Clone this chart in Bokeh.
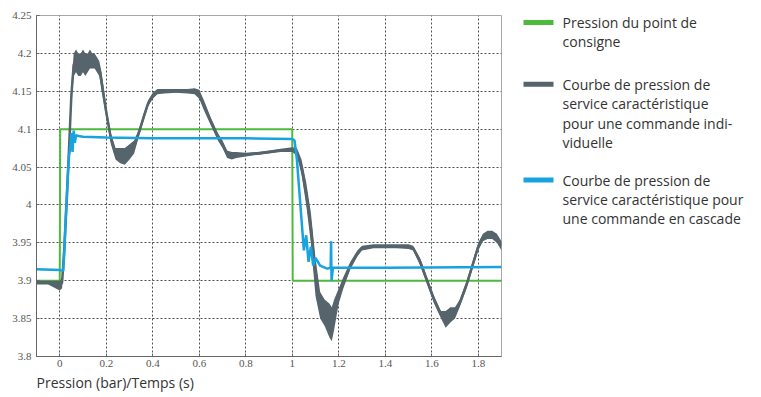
from bokeh.plotting import figure
from bokeh.models import Range1d, Title, FixedTicker, NumeralTickFormatter
from bokeh.layouts import row
from bokeh.embed import file_html
from bokeh.resources import INLINE
from bokeh.core.properties import value

# ---------------- data ----------------
x_ticks = [0, 0.2, 0.4, 0.6, 0.8, 1.0, 1.2, 1.4, 1.6, 1.8]
y_ticks = [3.8, 3.85, 3.9, 3.95, 4.0, 4.05, 4.1, 4.15, 4.2, 4.25]

setpoint_x = [-0.1, 0.0, 0.002, 1.0, 1.002, 1.9]
setpoint_y = [3.9, 3.9, 4.1, 4.1, 3.9, 3.9]

single_x = [-0.1, -0.05, 0.0, 0.01, 0.02, 0.03, 0.04, 0.05, 0.06, 0.07, 0.08, 0.09,
            0.10, 0.11, 0.12, 0.13, 0.14, 0.15, 0.16, 0.17, 0.18, 0.20, 0.22, 0.24,
            0.26, 0.28, 0.30, 0.32, 0.34, 0.36, 0.38, 0.40, 0.42, 0.45, 0.50, 0.55,
            0.58, 0.60, 0.62, 0.65, 0.68, 0.70, 0.72, 0.74, 0.76, 0.80, 0.85, 0.90,
            0.95, 1.00, 1.02, 1.04, 1.06, 1.08, 1.10, 1.12, 1.14, 1.16, 1.17, 1.18,
            1.20, 1.22, 1.25, 1.28, 1.30, 1.35, 1.40, 1.45, 1.50, 1.52, 1.55, 1.58,
            1.61, 1.64, 1.66, 1.68, 1.70, 1.72, 1.75, 1.78, 1.80, 1.82, 1.84, 1.86,
            1.88, 1.90]
single_lo = [3.895, 3.895, 3.887, 3.890, 3.930, 3.990, 4.060, 4.130, 4.170, 4.175, 4.170, 4.170,
             4.175, 4.170, 4.175, 4.180, 4.180, 4.180, 4.175, 4.170, 4.150, 4.115, 4.080, 4.060,
             4.055, 4.053, 4.060, 4.068, 4.090, 4.110, 4.130, 4.140, 4.146, 4.147, 4.148, 4.147,
             4.146, 4.140, 4.125, 4.105, 4.085, 4.075, 4.062, 4.060, 4.062, 4.064, 4.066, 4.068,
             4.070, 4.070, 4.065, 4.040, 4.000, 3.950, 3.880, 3.850, 3.840, 3.825, 3.820, 3.835,
             3.870, 3.890, 3.915, 3.932, 3.940, 3.943, 3.943, 3.943, 3.942, 3.940, 3.920, 3.895,
             3.870, 3.850, 3.838, 3.845, 3.850, 3.865, 3.890, 3.920, 3.940, 3.952, 3.955, 3.955,
             3.950, 3.940]
single_hi = [3.900, 3.900, 3.900, 3.905, 3.960, 4.020, 4.090, 4.160, 4.200, 4.205, 4.200, 4.200,
             4.205, 4.200, 4.200, 4.205, 4.200, 4.200, 4.195, 4.190, 4.175, 4.130, 4.095, 4.075,
             4.075, 4.075, 4.080, 4.085, 4.100, 4.120, 4.138, 4.148, 4.153, 4.153, 4.153, 4.153,
             4.154, 4.152, 4.138, 4.115, 4.095, 4.085, 4.072, 4.070, 4.070, 4.069, 4.070, 4.072,
             4.074, 4.076, 4.075, 4.060, 4.030, 3.990, 3.930, 3.885, 3.875, 3.870, 3.865, 3.875,
             3.890, 3.905, 3.925, 3.940, 3.946, 3.948, 3.948, 3.948, 3.948, 3.946, 3.930, 3.905,
             3.880, 3.860, 3.860, 3.865, 3.865, 3.875, 3.900, 3.930, 3.950, 3.962, 3.966, 3.966,
             3.962, 3.952]

cascade_x = [-0.1, 0.0, 0.015, 0.02, 0.025, 0.03, 0.035, 0.04, 0.045, 0.05, 0.055, 0.06,
             0.065, 0.07, 0.08, 0.10, 0.20, 0.40, 0.60, 0.80, 1.00, 1.01, 1.02, 1.03,
             1.04, 1.05, 1.06, 1.07, 1.08, 1.09, 1.10, 1.12, 1.15, 1.165, 1.167, 1.169,
             1.175, 1.40, 1.90]
cascade_y = [3.915, 3.914, 3.913, 3.940, 3.980, 4.010, 4.040, 4.065, 4.075, 4.095, 4.070, 4.098,
             4.082, 4.092, 4.091, 4.090, 4.089, 4.088, 4.088, 4.088, 4.087, 4.085, 4.060, 4.020,
             3.980, 3.940, 3.960, 3.925, 3.945, 3.920, 3.930, 3.920, 3.916, 3.917, 3.952, 3.900,
             3.917, 3.917, 3.918]

legend_labels = [
    ["Pression du point de", "consigne"],
    ["Courbe de pression de", "service caractéristique", "pour une commande indi-", "viduelle"],
    ["Courbe de pression de", "service caractéristique pour", "une commande en cascade"],
]
legend_colors = ["#4cbb3c", "#56646c", "#17a2e0"]
x_axis_text = "Pression (bar)/Temps (s)"

# ---------------- layout constants (page pixels) ----------------
FRAME_TOP, FRAME_BOTTOM = 15, 357
MAIN_W, MAIN_H = 506, 392
LEG_W = 245

# ---------------- main chart ----------------
p = figure(width=MAIN_W, height=MAIN_H, output_backend="svg", toolbar_location=None,
           x_range=Range1d(-0.1, 1.9), y_range=Range1d(3.8, 4.25),
           min_border_left=36, min_border_top=FRAME_TOP, min_border_right=5, min_border_bottom=0)
p.background_fill_color = "white"
p.border_fill_color = "white"
p.outline_line_color = "#a8a8a8"
p.outline_line_width = 1

for ax, ticks, fmt in ((p.xaxis, x_ticks, "0.[0]"), (p.yaxis, y_ticks, "0.[00]")):
    ax.ticker = FixedTicker(ticks=ticks)
    ax.formatter = NumeralTickFormatter(format=fmt)
    ax.major_label_text_font = "Liberation Sans Narrow"
    ax.major_label_text_font_size = "11px"
    ax.major_label_text_color = "#555555"
    ax.axis_line_color = "#666666"
    ax.major_tick_in = 3
    ax.major_tick_out = 0
    ax.major_tick_line_color = "#666666"
    ax.minor_tick_line_color = None
    ax.major_label_standoff = 3
p.yaxis.major_label_standoff = 5

for g in (p.xgrid, p.ygrid):
    g.grid_line_color = "#333333"
    g.grid_line_dash = "2 2"
    g.grid_line_width = 1
    g.grid_line_alpha = 0.85

p.line(setpoint_x, setpoint_y, color=legend_colors[0], line_width=2)
p.varea(x=single_x, y1=single_lo, y2=single_hi, fill_color=legend_colors[1], fill_alpha=1.0)
p.line(single_x, [(a + b) / 2 for a, b in zip(single_lo, single_hi)],
       color=legend_colors[1], line_width=2.5)
p.line(cascade_x, cascade_y, color=legend_colors[2], line_width=2.5)

p.add_layout(Title(text=x_axis_text, align="left", text_font="Open Sans",
                   text_font_size="14px", text_font_style="normal",
                   text_color="#333333", standoff=2, offset=0), "below")

# ---------------- legend panel (frame aligned with main frame; page-pixel coords) ----------------
q = figure(width=LEG_W, height=MAIN_H, output_backend="svg", toolbar_location=None,
           x_range=Range1d(MAIN_W, MAIN_W + LEG_W), y_range=Range1d(FRAME_BOTTOM, FRAME_TOP),
           x_axis_type=None, y_axis_type=None,
           min_border=0, min_border_left=0, min_border_right=0,
           min_border_top=FRAME_TOP, min_border_bottom=MAIN_H - FRAME_BOTTOM)
q.outline_line_color = None
q.xgrid.visible = False
q.ygrid.visible = False

entry_tops = [22, 84, 180]
line_gap = 19.5
for top, lines, col in zip(entry_tops, legend_labels, legend_colors):
    q.segment(x0=[523], y0=[top], x1=[553], y1=[top], line_color=col, line_width=5)
    q.text(x=[562] * len(lines), y=[top + i * line_gap for i in range(len(lines))],
           text=lines, text_font=value("Open Sans"), text_font_size="14px",
           text_baseline="middle", text_align="left", text_color="#333333")

layout = row(p, q)
open("out.html", "w").write(file_html(layout, INLINE))
